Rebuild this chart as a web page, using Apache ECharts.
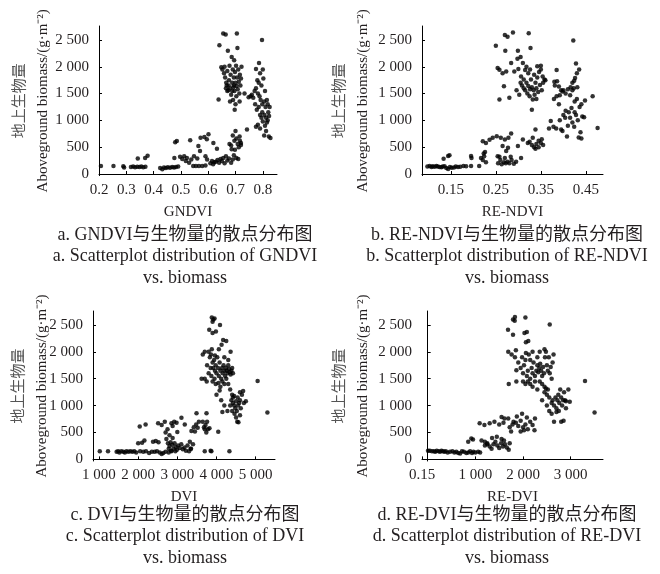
<!DOCTYPE html>
<html lang="zh">
<head>
<meta charset="utf-8">
<script src="https://cdn.jsdelivr.net/npm/echarts@6/dist/echarts.min.js"></script>
<style>
    html, body { margin: 0; padding: 0; background: #fff; }
    #main { width: 660px; height: 574px; }
</style>
</head>
<body>
<div id="main"></div>
<script>
// y 轴（地上生物量）刻度
var biomassTicks = [0, 500, 1000, 1500, 2000, 2500];
var biomassTickLabels = ['0', '500', '1 000', '1 500', '2 000', '2 500'];

// x 轴刻度
var gndviTicks = [0.2, 0.3, 0.4, 0.5, 0.6, 0.7, 0.8];
var gndviTickLabels = ['0.2', '0.3', '0.4', '0.5', '0.6', '0.7', '0.8'];
var rendviTicks = [0.15, 0.25, 0.35, 0.45];
var rendviTickLabels = ['0.15', '0.25', '0.35', '0.45'];
var dviTicks = [1000, 2000, 3000, 4000, 5000];
var dviTickLabels = ['1 000', '2 000', '3 000', '4 000', '5 000'];
var redviTicks = [-119, 1000, 2000, 3000];
var redviTickLabels = ['0.15', '1 000', '2 000', '3 000'];

var axisNames = ['GNDVI', 'RE-NDVI', 'DVI', 'RE-DVI'];
var captionsCn = ['a. GNDVI与生物量的散点分布图', 'b. RE-NDVI与生物量的散点分布图',
                  'c. DVI与生物量的散点分布图', 'd. RE-DVI与生物量的散点分布图'];
var captionsEn = ['a. Scatterplot distribution of GNDVI', 'b. Scatterplot distribution of RE-NDVI',
                  'c. Scatterplot distribution of DVI', 'd. Scatterplot distribution of RE-DVI'];

// [植被指数, 地上生物量 g·m-2]
var gndviPoints = [
    [0.207,150],[0.253,150],[0.289,145],[0.292,120],[0.317,130],[0.325,140],[0.332,125],[0.340,135],[0.342,290],
    [0.348,130],[0.355,140],[0.362,125],[0.369,300],[0.370,135],[0.378,340],
    [0.424,110],[0.432,90],[0.438,120],[0.445,110],[0.452,125],[0.460,115],[0.468,130],[0.475,120],[0.476,300],
    [0.482,130],[0.479,590],[0.485,615],[0.490,140],
    [0.497,320],[0.505,280],[0.512,330],[0.518,240],[0.522,300],[0.530,210],[0.534,630],[0.538,270],[0.545,150],
    [0.548,330],[0.555,150],[0.560,290],[0.564,520],[0.566,150],[0.570,430],[0.572,675],[0.578,150],[0.586,690],
    [0.590,160],[0.595,650],[0.601,740],[0.590,330],[0.596,270],
    [0.608,200],[0.614,240],[0.618,180],[0.619,580],[0.622,220],[0.628,230],[0.632,470],[0.634,260],[0.640,210],
    [0.645,280],[0.650,240],[0.655,300],[0.660,200],[0.665,330],[0.670,250],[0.676,290],[0.684,210],[0.690,270],
    [0.678,560],[0.684,530],[0.690,720],[0.696,620],[0.700,800],[0.703,660],[0.708,560],[0.712,500],[0.716,620],
    [0.720,540],[0.698,450],[0.694,350],[0.703,300],[0.710,280],[0.686,460],[0.715,700],[0.720,580],
    [0.638,1390],[0.641,2400],[0.648,1990],[0.652,1950],[0.655,2620],[0.658,1880],[0.660,2000],[0.664,2600],
    [0.662,1800],[0.666,1700],[0.668,1650],[0.670,1920],[0.672,2300],[0.674,1560],[0.676,1750],[0.678,2020],
    [0.680,1600],[0.682,1850],[0.684,1480],[0.686,2180],[0.688,1700],[0.690,1950],[0.691,1380],[0.692,1620],
    [0.694,1800],[0.695,2120],[0.696,1550],[0.697,1200],[0.698,1900],[0.700,1700],[0.702,2020],[0.703,1450],
    [0.704,1640],[0.705,2620],[0.706,1800],[0.707,2350],[0.708,1580],[0.710,1950],[0.712,1720],[0.714,1500],
    [0.716,1850],[0.718,1650],[0.720,1780],[0.722,2000],[0.665,1600],[0.670,1550],[0.675,1650],[0.688,1550],
    [0.694,1650],[0.680,1350],[0.700,1300],[0.715,1350],
    [0.733,1500],[0.742,830],[0.748,1430],[0.755,1450],
    [0.797,2500],[0.786,2070],[0.775,1960],[0.780,1750],[0.785,1700],[0.790,1880],[0.795,1650],[0.800,1950],
    [0.770,1550],[0.775,1600],[0.782,1500],[0.788,1450],[0.792,1380],[0.798,1300],[0.805,1350],[0.810,1250],
    [0.815,1380],[0.820,1150],[0.772,1300],[0.778,1200],[0.785,1250],[0.790,1100],[0.795,1050],[0.800,980],
    [0.806,1100],[0.812,1050],[0.818,1000],[0.823,1080],[0.775,880],[0.782,920],[0.790,850],[0.798,1150],
    [0.808,900],[0.815,960],[0.822,700],[0.805,720],[0.812,800],[0.828,670],[0.760,1480],[0.765,1420],
    [0.802,1780],[0.808,1550],[0.818,1300],[0.825,1250]
];

var rendviPoints = [
    [0.098,140],[0.103,150],[0.107,130],[0.110,145],[0.114,135],[0.118,150],[0.121,140],[0.125,130],[0.129,125],
    [0.132,140],[0.136,145],[0.140,110],[0.144,95],[0.148,130],[0.152,115],[0.157,120],[0.161,140],[0.166,130],
    [0.171,135],[0.178,150],[0.184,145],
    [0.134,285],[0.144,335],[0.147,350],[0.195,335],[0.196,300],[0.195,150],[0.213,150],
    [0.217,300],[0.221,260],[0.224,330],[0.228,220],[0.223,380],[0.226,410],[0.221,610],[0.228,580],
    [0.236,640],[0.243,675],[0.252,705],[0.261,675],[0.270,645],[0.278,675],[0.284,755],
    [0.255,200],[0.260,260],[0.263,180],[0.268,220],[0.272,200],[0.276,230],[0.280,200],[0.285,260],[0.290,190],
    [0.295,230],[0.258,320],[0.270,300],[0.283,320],[0.254,330],
    [0.265,520],[0.273,430],[0.277,490],[0.299,520],[0.310,645],[0.321,580],[0.332,675],[0.338,830],
    [0.325,600],[0.330,540],[0.335,500],[0.340,560],[0.345,620],[0.350,580],[0.355,540],[0.338,470],[0.345,500],
    [0.352,650],[0.306,300],
    [0.250,2390],[0.270,2590],[0.276,2560],[0.288,2640],[0.271,2300],[0.323,2625],[0.299,2300],[0.327,2350],
    [0.422,2490],
    [0.254,1975],[0.258,1945],[0.265,1880],[0.273,1910],[0.268,1635],[0.258,1390],[0.280,1420],[0.291,1910],
    [0.284,2070],
    [0.298,2150],[0.305,2180],[0.310,2070],[0.315,1940],[0.300,1960],[0.306,1820],[0.312,1760],[0.318,1700],
    [0.322,1640],[0.326,1580],[0.330,1620],[0.334,1560],[0.338,1700],[0.342,1800],[0.346,1900],[0.350,1950],
    [0.354,1820],[0.358,1760],[0.320,1500],[0.325,1450],[0.332,1390],[0.336,1480],[0.340,1600],[0.344,1530],
    [0.348,1660],[0.352,1560],[0.330,1200],[0.315,1560],[0.308,1650],[0.302,1480],[0.318,2000],[0.326,1950],
    [0.335,1850],[0.328,1760],[0.342,2010],[0.350,2020],[0.355,1700],[0.360,1750],[0.312,1600],[0.322,1880],
    [0.340,1400],[0.305,1700],[0.296,1560],
    [0.381,1650],[0.386,1730],[0.390,1630],[0.395,1560],[0.385,1450],[0.379,1400],[0.392,1470],[0.398,1540],
    [0.390,1300],[0.405,1500],[0.410,1580],[0.416,1620],[0.420,1700],[0.424,1740],[0.426,1790],[0.430,1880],
    [0.435,1950],[0.428,2060],[0.431,1620],[0.420,1560],[0.415,1470],[0.425,1350],[0.385,1940],[0.380,1720],
    [0.400,1560],[0.423,1600],
    [0.368,850],[0.372,990],[0.378,880],[0.384,850],[0.392,1000],[0.398,800],[0.400,1100],[0.404,1050],
    [0.408,700],[0.412,1150],[0.418,1230],[0.420,960],[0.424,880],[0.428,1100],[0.432,1000],[0.436,1250],
    [0.440,1300],[0.442,1070],[0.446,1060],[0.438,780],[0.434,680],[0.440,660],[0.430,1400],[0.425,1150],
    [0.410,900],[0.395,830],[0.405,1180],[0.415,1050],[0.448,1370],[0.465,1450],[0.476,860]
];

var dviPoints = [
    [1020,150],[1230,150],[1450,140],[1490,150],[1520,130],[1570,150],[1620,140],[1660,130],[1700,150],
    [1750,140],[1800,150],[1850,140],[1900,150],[1950,130],[2050,150],[2130,140],[2200,150],[2280,120],
    [2350,140],[2420,140],[2480,150],[2550,130],[2600,100],[2640,120],[2700,140],[2780,130],[2850,150],
    [2000,300],[2100,310],[2160,350],[2040,610],[2190,650],[2510,670],[2600,640],[2380,330],[2450,340],
    [2520,320],[2680,700],[2850,670],
    [2720,380],[2760,300],[2800,250],[2830,320],[2870,270],[2900,200],[2930,300],[2960,230],[2990,180],
    [3020,260],[3060,210],[3100,280],[3140,190],[3180,220],[3220,160],[3260,260],[3300,150],[3340,200],
    [2780,200],[2840,160],[2880,400],[2950,150],[2700,500],[2750,560],[2880,620],[2920,700],[2980,680],
    [3000,510],[2800,450],[3105,775],[3190,650],
    [3320,330],[3400,280],[3350,200],[3360,530],[3420,600],[3480,650],[3520,590],[3550,700],[3450,520],
    [3490,860],[3745,860],[3680,600],[3720,640],[3760,700],[3780,560],[3820,580],[3650,700],[3700,560],
    [3740,500],[4045,515],[3700,150],[3850,160],[3870,150],[4330,150],
    [3880,2640],[3920,2600],[3950,2620],[3900,2560],[4090,2500],[3815,2410],[3900,2350],[3985,2380],
    [4170,2220],[4250,2200],[4130,2130],
    [3800,2000],[3830,1900],[3860,1950],[3880,2050],[3900,1800],[3920,1700],[3940,1850],[3960,1650],
    [3980,1750],[4000,1600],[4020,1900],[4040,1700],[4060,1550],[4080,1800],[4100,1650],[4120,1500],
    [4140,1700],[4160,1600],[4180,1750],[4200,1650],[4220,1550],[4240,1700],[4260,1650],[4280,1600],
    [4300,1750],[4320,1680],[4340,1620],[4360,1580],[4380,1650],[4400,1700],[4420,1600],[4360,2000],
    [4300,1850],[4200,1900],[3850,1700],[3870,1550],[3900,1450],[3950,1500],[3750,1450],[3700,1500],
    [3620,1500],[3800,1600],[3980,1400],[4050,1420],[4100,1350],[4150,1450],[4200,1400],[4250,1500],
    [4300,1400],[4350,1300],[4080,1280],[4000,1200],[4120,1100],[4200,1000],[4400,1200],[4420,1150],
    [3650,1950],[3700,2000],[3760,1750],[3960,1930],[4060,2050],
    [4380,1100],[4420,1050],[4450,1000],[4480,950],[4500,1080],[4520,900],[4550,1000],[4580,1050],
    [4600,1100],[4620,950],[4650,1200],[4680,1270],[4700,1050],[4400,900],[4460,850],[4500,780],
    [4530,700],[4560,690],[4600,820],[4450,1180],[4350,1000],[4280,900],[4150,880],[4750,1080],
    [4600,1250],[4540,1150],
    [5050,1460],[5300,870]
];

var redviPoints = [
    [7,160],[45,160],[90,150],[130,150],[160,140],[190,160],[230,150],[260,140],[290,160],[320,150],
    [350,140],[380,150],[420,130],[470,140],[520,150],[560,130],[600,140],[640,120],[680,110],[720,150],
    [760,140],[810,120],[850,130],[890,150],[930,120],[960,140],[1000,130],[1060,140],[1100,130],
    [850,330],[950,370],[915,390],[1090,670],[1190,640],[1130,350],[1200,330],[1250,280],
    [1200,260],[1250,300],[1300,240],[1340,200],[1380,280],[1420,330],[1460,260],[1500,210],[1540,300],
    [1580,240],[1620,280],[1660,220],[1700,180],[1720,300],[1350,400],[1450,420],[1550,380],[1600,350],
    [1300,670],[1400,700],[1500,650],[1590,680],[1550,790],[1610,760],
    [1690,760],[1720,600],[1750,520],[1780,650],
    [1800,700],[1850,680],[1900,620],[1950,720],[2000,600],[2050,650],[2100,560],[2150,700],[2200,640],
    [2240,540],[1870,800],[1980,850],[2080,780],[2250,760],[1950,520],[2020,540],
    [1790,2600],[1830,2650],[2050,2640],[1825,2580],[1685,2410],[1790,2320],[2560,2510],
    [2030,2350],[2080,2370],[2110,2200],[2060,2180],
    [1690,2000],[1760,1950],[1830,1900],[1850,2030],[1700,1400],[1860,1450],[1860,1660],
    [1900,1800],[1950,1700],[1980,1900],[2000,1600],[2020,1750],[2050,1850],[2080,1550],[2100,1650],
    [2120,1950],[2150,1500],[2180,1700],[2200,1600],[2220,1800],[2250,1550],[2280,1650],[2300,1750],
    [2320,1620],[2340,1700],[2360,1780],[2380,1650],[2400,1550],[2420,1720],[2440,1600],[2460,1900],
    [2480,2000],[2500,1750],[2520,1650],[2540,1900],[2560,1600],[2580,1720],[2600,1500],[2620,1800],
    [2640,1950],[2000,1450],[2050,1400],[2100,1450],[2150,1400],[2200,1350],[2250,1450],[2300,1300],
    [2350,1450],[2400,1400],[2450,1350],[2500,1200],[2520,1300],[2060,1980],[2200,2000],[2350,2000],
    [2150,1850],[2450,2050],[2300,1900],
    [2500,1000],[2550,900],[2600,1050],[2620,1100],[2650,1000],[2680,1150],[2700,950],[2720,1100],
    [2740,1200],[2760,1050],[2780,1300],[2800,1150],[2820,1000],[2840,1100],[2860,1250],[2880,1100],
    [2900,1080],[2950,1300],[2980,1070],[2600,850],[2650,700],[2700,880],[2750,900],[2800,700],
    [2850,720],[2550,1150],[2450,1250],[2400,1100],[2480,1320],[2900,950],
    [3300,1460],[3500,870]
];

var FONT = "'Liberation Serif', 'Times New Roman', 'Noto Sans CJK SC', serif";
var TEXT_COLOR = '#231f20';

function labelFormatter(values, labels) {
    return function (v) {
        for (var i = 0; i < values.length; i++) {
            if (Math.abs(values[i] - v) < 1e-6) return labels[i];
        }
        return '';
    };
}

function xAxisOf(idx, min, max, ticks, tickLabels) {
    return {
        type: 'value', gridIndex: idx, min: min, max: max,
        name: axisNames[idx], nameLocation: 'middle', nameGap: 29, nameMoveOverlap: false,
        nameTextStyle: { fontFamily: FONT, fontSize: 15, color: TEXT_COLOR },
        splitLine: { show: false },
        axisLine: { lineStyle: { color: '#000', width: 1 } },
        axisTick: { inside: true, length: 3, customValues: ticks, lineStyle: { color: '#000' } },
        axisLabel: {
            customValues: ticks, margin: 7, fontFamily: FONT, fontSize: 15, color: TEXT_COLOR,
            formatter: labelFormatter(ticks, tickLabels)
        }
    };
}

function yAxisOf(idx, gap) {
    return {
        type: 'value', gridIndex: idx, min: -30, max: 2760,
        name: '{cn|地上生物量}\n{en|Aboveground biomass/(g·m⁻²)}',
        nameLocation: 'middle', nameRotate: 90, nameGap: gap, nameMoveOverlap: false,
        nameTextStyle: {
            color: TEXT_COLOR,
            rich: {
                cn: { fontFamily: "'Noto Sans CJK SC', sans-serif", fontSize: 15, lineHeight: 25, color: '#555' },
                en: { fontFamily: FONT, fontSize: 15, lineHeight: 25, color: TEXT_COLOR }
            }
        },
        splitLine: { show: false },
        axisLine: { show: true, lineStyle: { color: '#000', width: 1 } },
        axisTick: { show: true, inside: true, length: 3, customValues: biomassTicks, lineStyle: { color: '#000' } },
        axisLabel: {
            customValues: biomassTicks, margin: 10, fontFamily: FONT, fontSize: 15, color: TEXT_COLOR,
            formatter: labelFormatter(biomassTicks, biomassTickLabels)
        }
    };
}

function seriesOf(idx, points) {
    return {
        type: 'scatter', xAxisIndex: idx, yAxisIndex: idx, data: points,
        symbolSize: 4.5, itemStyle: { color: '#000' }, silent: true
    };
}

function captions(cx, y0, idx) {
    var lines = [captionsCn[idx], captionsEn[idx], 'vs. biomass'];
    return lines.map(function (t, i) {
        return {
            type: 'text', x: cx, y: y0 + i * 21.5,
            style: {
                text: t, align: 'center', verticalAlign: 'middle',
                fontFamily: FONT, fontSize: 18, fill: TEXT_COLOR
            }
        };
    });
}

var myChart = echarts.init(document.getElementById('main'));
myChart.setOption({
    backgroundColor: '#fff',
    animation: false,
    grid: [
        { left: 99, top: 26, width: 178, height: 149.6 },
        { left: 422, top: 26, width: 181, height: 149.6 },
        { left: 93, top: 311, width: 182, height: 150 },
        { left: 422, top: 311, width: 181, height: 150 }
    ],
    xAxis: [
        xAxisOf(0, 0.2, 0.852, gndviTicks, gndviTickLabels),
        xAxisOf(1, 0.086, 0.488, rendviTicks, rendviTickLabels),
        xAxisOf(2, 847, 5494, dviTicks, dviTickLabels),
        xAxisOf(3, -119, 3677, redviTicks, redviTickLabels)
    ],
    yAxis: [yAxisOf(0, 43), yAxisOf(1, 46), yAxisOf(2, 38), yAxisOf(3, 46)],
    series: [
        seriesOf(0, gndviPoints),
        seriesOf(1, rendviPoints),
        seriesOf(2, dviPoints),
        seriesOf(3, redviPoints)
    ],
    graphic: [].concat(
        captions(185, 235, 0),
        captions(507, 235, 1),
        captions(185, 515, 2),
        captions(507, 515, 3)
    )
});
</script>
</body>
</html>
